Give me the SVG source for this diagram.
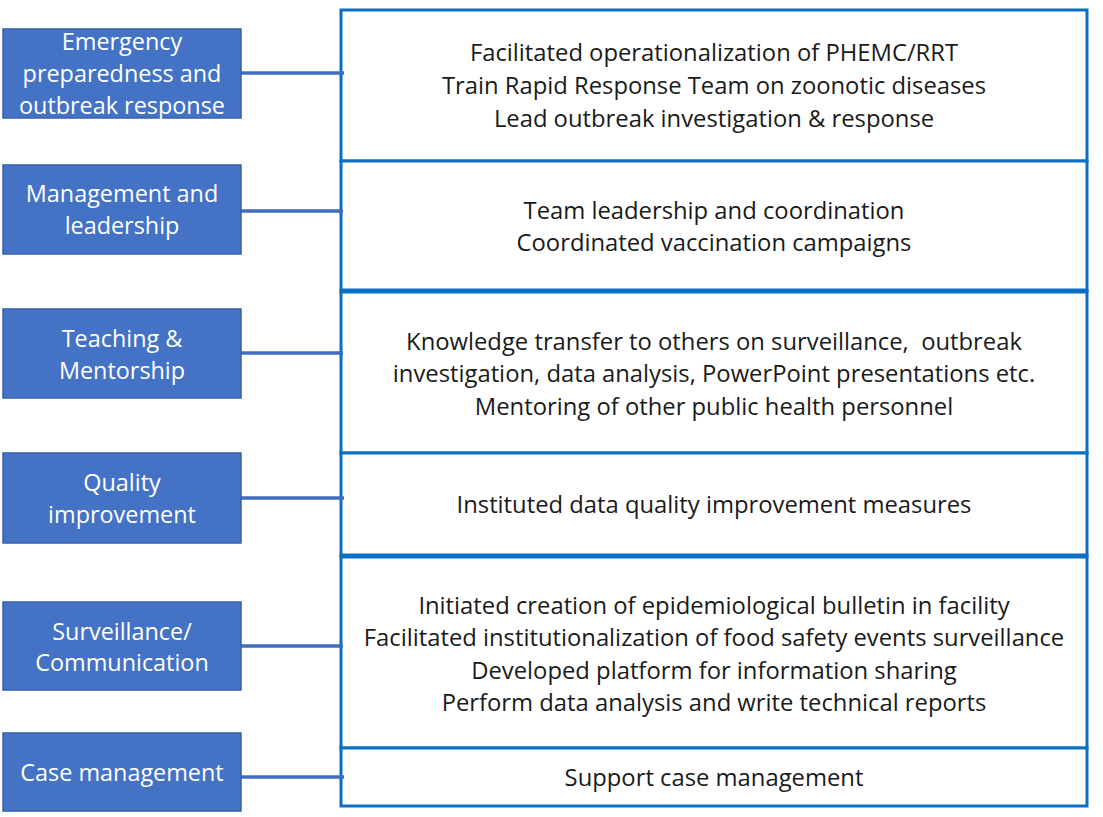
<svg xmlns="http://www.w3.org/2000/svg" width="1103" height="817" viewBox="0 0 1103 817">
<style>
.cat rect{fill:#4472C4;stroke:#3A62A8;stroke-width:1.5}
.cat text{fill:#ffffff;font-family:"Open Sans","Liberation Sans",sans-serif;font-size:23.4px;text-anchor:middle}
.det text{fill:#1a1a1a;font-family:"Open Sans","Liberation Sans",sans-serif;font-size:23.8px;text-anchor:middle;white-space:pre}
.det rect{fill:#ffffff;stroke:#0A6FC2;stroke-width:3}
.conn line{stroke:#3F6DBF;stroke-width:3.5}
</style>
<rect width="1103" height="817" fill="#ffffff"/>
<g id="details" class="det">
<g id="d1"><rect x="341" y="10" width="746" height="151"/>
<text x="714" y="61">Facilitated operationalization of PHEMC/RRT</text>
<text x="714" y="94">Train Rapid Response Team on zoonotic diseases</text>
<text x="714" y="127">Lead outbreak investigation &amp; response</text></g>
<g id="d2"><rect x="341" y="161" width="746" height="130"/>
<text x="714" y="219">Team leadership and coordination</text>
<text x="714" y="251">Coordinated vaccination campaigns</text></g>
<g id="d3"><rect x="341" y="291" width="746" height="162"/>
<text x="714" y="350" xml:space="preserve">Knowledge transfer to others on surveillance,  outbreak</text>
<text x="714" y="382">investigation, data analysis, PowerPoint presentations etc.</text>
<text x="714" y="415">Mentoring of other public health personnel</text></g>
<g id="d4"><rect x="341" y="453" width="746" height="103"/>
<text x="714" y="513">Instituted data quality improvement measures</text></g>
<g id="d5"><rect x="341" y="556" width="746" height="192"/>
<text x="714" y="614">Initiated creation of epidemiological bulletin in facility</text>
<text x="714" y="646">Facilitated institutionalization of food safety events surveillance</text>
<text x="714" y="679">Developed platform for information sharing</text>
<text x="714" y="711">Perform data analysis and write technical reports</text></g>
<g id="d6"><rect x="341" y="748" width="746" height="58"/>
<text x="714" y="786">Support case management</text></g>
<line x1="341" y1="291" x2="1087" y2="291" stroke="#0A6FC2" stroke-width="5"/>
<line x1="341" y1="556" x2="1087" y2="556" stroke="#0A6FC2" stroke-width="5"/>
</g>
<g id="connectors" class="conn">
<line x1="241" y1="73" x2="344" y2="73"/>
<line x1="241" y1="211" x2="343" y2="211"/>
<line x1="241" y1="353" x2="343" y2="353"/>
<line x1="241" y1="498" x2="344" y2="498"/>
<line x1="241" y1="646" x2="343" y2="646"/>
<line x1="241" y1="777" x2="344" y2="777"/>
</g>
<g id="n1" class="cat"><rect x="3" y="29" width="238" height="89"/>
<text x="122" y="50">Emergency</text><text x="122" y="82">preparedness and</text><text x="122" y="114">outbreak response</text></g>
<g id="n2" class="cat"><rect x="3" y="165" width="238" height="89"/>
<text x="122" y="202">Management and</text><text x="122" y="234">leadership</text></g>
<g id="n3" class="cat"><rect x="3" y="309" width="238" height="89"/>
<text x="122" y="347">Teaching &amp;</text><text x="122" y="379">Mentorship</text></g>
<g id="n4" class="cat"><rect x="3" y="453" width="238" height="90"/>
<text x="122" y="491">Quality</text><text x="122" y="523">improvement</text></g>
<g id="n5" class="cat"><rect x="3" y="602" width="238" height="88"/>
<text x="122" y="640">Surveillance/</text><text x="122" y="671">Communication</text></g>
<g id="n6" class="cat"><rect x="3" y="733" width="238" height="78"/>
<text x="122" y="781">Case management</text></g>
</svg>
